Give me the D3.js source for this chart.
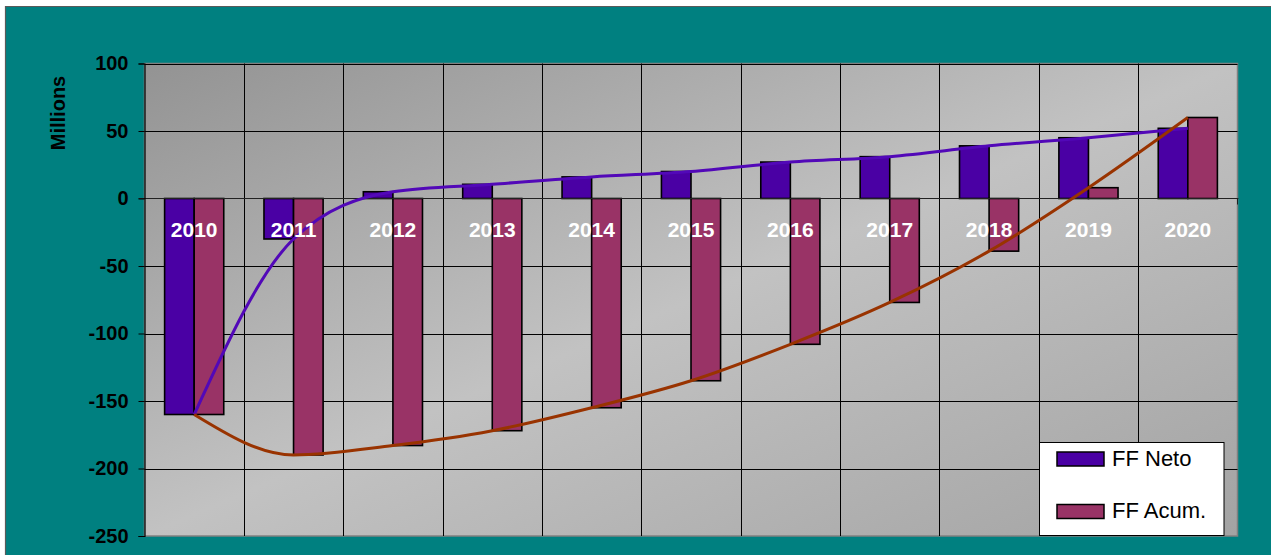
<!DOCTYPE html>
<html>
<head>
<meta charset="utf-8">
<script src="https://cdn.jsdelivr.net/npm/d3@7"></script>
<style>
  html, body { margin: 0; padding: 0; background: #ffffff; }
  svg { display: block; font-family: "Liberation Sans", Arial, sans-serif; }
</style>
</head>
<body>
<svg id="chart" width="1271" height="555"></svg>
<script>
// ---- data ----
const years = ["2010","2011","2012","2013","2014","2015","2016","2017","2018","2019","2020"];
const ffNeto = [-160, -30, 5, 10.5, 16, 20, 27, 31, 39, 45, 52];
const ffAcum = [-160, -190, -183, -172, -155, -135, -108, -77, -39, 8, 60];
const yTicks = [100, 50, 0, -50, -100, -150, -200, -250];
const seriesNames = ["FF Neto", "FF Acum."];
const yTitle = "Millions";

// ---- layout ----
const W = 1271, H = 555;
const L = 144.5, R = 1237.5, T = 63.5, B = 536;
const colNeto = "#4a00a4", colAcum = "#993366";
const lineNeto = "#5208b8", lineAcum = "#993300";

const svg = d3.select("#chart");
const defs = svg.append("defs");
const grad = defs.append("linearGradient").attr("id", "bg")
  .attr("x1", "0").attr("y1", "0").attr("x2", "1").attr("y2", "1");
grad.append("stop").attr("offset", "0").attr("stop-color", "#939393");
grad.append("stop").attr("offset", "0.5").attr("stop-color", "#c2c2c2");
grad.append("stop").attr("offset", "1").attr("stop-color", "#a3a3a3");

// outer frame
svg.append("rect").attr("x", 0).attr("y", 0).attr("width", W).attr("height", H).attr("fill", "#ffffff");
svg.append("rect").attr("x", 5).attr("y", 6).attr("width", W - 5).attr("height", H - 6).attr("fill", "#008080");
svg.append("line").attr("x1", 5.5).attr("y1", 6).attr("x2", 5.5).attr("y2", H).attr("stroke", "#5a5a5a").attr("stroke-width", 1.2);
svg.append("line").attr("x1", 5).attr("y1", 6.5).attr("x2", W).attr("y2", 6.5).attr("stroke", "#5a5a5a").attr("stroke-width", 1.2);

// scales
const x = d3.scaleBand().domain(years).range([L, R]).padding(0);
const x1 = d3.scaleBand().domain(["neto", "acum"]).range([0, x.bandwidth()]).paddingInner(0).paddingOuter(0.68);
const y = d3.scaleLinear().domain([-250, 100]).range([B, T]);

// plot background
svg.append("rect").attr("x", L).attr("y", T).attr("width", R - L).attr("height", B - T)
  .attr("fill", "url(#bg)").attr("stroke", "#808080").attr("stroke-width", 1.5);

// horizontal gridlines
svg.append("g").selectAll("line").data(yTicks.filter(d => d !== -250 && d !== 0)).join("line")
  .attr("x1", L).attr("x2", R).attr("y1", d => Math.round(y(d)) + 0.5).attr("y2", d => Math.round(y(d)) + 0.5)
  .attr("stroke", "#000").attr("stroke-width", 1);

// vertical gridlines at category boundaries
svg.append("g").selectAll("line").data(years.slice(1)).join("line")
  .attr("x1", d => Math.round(x(d)) + 0.5).attr("x2", d => Math.round(x(d)) + 0.5)
  .attr("y1", T).attr("y2", B).attr("stroke", "#000").attr("stroke-width", 1);

// bars
const gBars = svg.append("g");
years.forEach((yr, i) => {
  [["neto", ffNeto[i], colNeto], ["acum", ffAcum[i], colAcum]].forEach(([k, v, c]) => {
    gBars.append("rect")
      .attr("x", x(yr) + x1(k))
      .attr("y", Math.min(y(0), y(v)))
      .attr("width", x1.bandwidth())
      .attr("height", Math.abs(y(v) - y(0)))
      .attr("fill", c).attr("stroke", "#000").attr("stroke-width", 1.6);
  });
});

// zero (category) axis
svg.append("line").attr("x1", L - 6).attr("x2", R + 1).attr("y1", y(0)).attr("y2", y(0))
  .attr("stroke", "#222").attr("stroke-width", 1.2);
svg.append("line").attr("x1", R).attr("x2", R).attr("y1", y(0)).attr("y2", y(0) + 6)
  .attr("stroke", "#222").attr("stroke-width", 1);

// y axis
const yAxis = svg.append("g").attr("transform", `translate(${L},0)`)
  .call(d3.axisLeft(y).tickValues(yTicks).tickSize(6).tickPadding(10).tickFormat(d => String(d)));
yAxis.select(".domain").attr("stroke", "#000").attr("stroke-width", 1.2);
yAxis.selectAll(".tick line").attr("stroke", "#000").attr("stroke-width", 1);
yAxis.selectAll(".tick text").attr("font-size", 20).attr("font-weight", "bold")
  .attr("fill", "#000").attr("font-family", "Liberation Sans, Arial, sans-serif");

// y title
svg.append("text").attr("transform", `translate(65,113) rotate(-90)`)
  .attr("text-anchor", "middle").attr("font-size", 20).attr("font-weight", "bold").attr("fill", "#000")
  .text(yTitle);

// lines
const cx = d => x(d) + x.bandwidth() / 2;
const lineGen = d3.line().x(d => cx(d[0])).y(d => y(d[1])).curve(d3.curveMonotoneX);
svg.append("path").datum(years.map((yr, i) => [yr, ffNeto[i]]))
  .attr("d", lineGen).attr("fill", "none").attr("stroke", lineNeto).attr("stroke-width", 3);
svg.append("path").datum(years.map((yr, i) => [yr, ffAcum[i]]))
  .attr("d", lineGen).attr("fill", "none").attr("stroke", lineAcum).attr("stroke-width", 3);

// category labels
svg.append("g").selectAll("text").data(years).join("text")
  .attr("x", d => cx(d)).attr("y", 237)
  .attr("text-anchor", "middle").attr("font-size", 21).attr("font-weight", "bold").attr("fill", "#ffffff")
  .text(d => d);

// legend
const lg = svg.append("g");
lg.append("rect").attr("x", 1039.5).attr("y", 442.5).attr("width", 184.5).attr("height", 93)
  .attr("fill", "#ffffff").attr("stroke", "#000").attr("stroke-width", 1);
const legCols = [colNeto, colAcum];
const legY = [452, 504.5];
seriesNames.forEach((n, i) => {
  lg.append("rect").attr("x", 1057).attr("y", legY[i]).attr("width", 47).attr("height", 14)
    .attr("fill", legCols[i]).attr("stroke", "#000").attr("stroke-width", 1.5);
  lg.append("text").attr("x", 1112).attr("y", legY[i] + 13.5).attr("font-size", 22).attr("fill", "#000").text(n);
});
</script>
</body>
</html>
